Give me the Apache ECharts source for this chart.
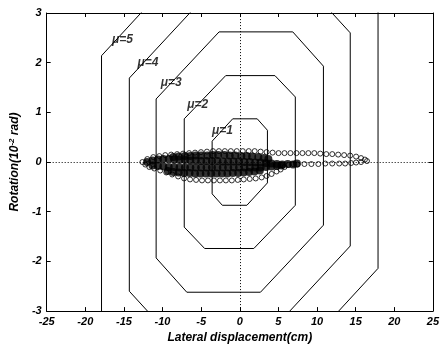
<!DOCTYPE html>
<html><head><meta charset="utf-8">
<script src="https://cdn.jsdelivr.net/npm/echarts@6/dist/echarts.min.js"></script>
<style>html,body{margin:0;padding:0;background:#fff}#c{width:442px;height:349px}</style>
</head><body><div id="c"></div>
<script>
const xTicks = [-25,-20,-15,-10,-5,0,5,10,15,20,25];
const yTicks = [-3,-2,-1,0,1,2,3];

// contour octagons (vertices)
const mu1 = [[-0.92,0.87],[2.26,0.87],[3.58,0.64],[3.58,-0.42],[0.92,-0.87],[-2.26,-0.87],[-3.58,-0.64],[-3.58,0.42],[-0.92,0.87]];
const mu2 = [[-1.82,1.74],[4.55,1.74],[7.19,1.31],[7.19,-0.87],[1.82,-1.74],[-4.55,-1.74],[-7.19,-1.31],[-7.19,0.87],[-1.82,1.74]];
const mu3 = [[-2.68,2.62],[6.86,2.62],[10.83,1.93],[10.83,-1.27],[2.68,-2.62],[-6.86,-2.62],[-10.83,-1.93],[-10.83,1.27],[-2.68,2.62]];
const mu4 = [[-3.6,3.48],[9.12,3.48],[14.3,2.6],[14.3,-1.69],[3.6,-3.48],[-9.12,-3.48],[-14.3,-2.6],[-14.3,1.69],[-3.6,3.48]];
const mu5 = [[-4.5,4.4],[11.4,4.4],[17.9,3.25],[17.9,-2.14],[4.5,-4.4],[-11.4,-4.4],[-17.9,-3.25],[-17.9,2.14],[-4.5,4.4]];
const contourLabels = [[-15.2,2.47,'μ=5'],[-11.9,1.99,'μ=4'],[-8.88,1.6,'μ=3'],[-5.44,1.16,'μ=2'],[-2.25,0.63,'μ=1']];

// response points: upper branch of the loop
const upperBranch = [[-12.61,0.0],[-11.97,0.06],[-11.2,0.1],[-10.42,0.12],[-9.65,0.14],[-8.88,0.15],[-8.11,0.16],[-7.34,0.17],[-6.56,0.18],[-5.79,0.19],[-5.02,0.2],[-4.25,0.21],[-3.47,0.22],[-2.7,0.22],[-1.93,0.22],[-1.16,0.22],[-0.39,0.22],[0.39,0.22],[1.16,0.22],[1.93,0.22],[2.7,0.21],[3.47,0.2],[4.25,0.19],[5.02,0.18],[5.79,0.18],[6.56,0.18],[7.34,0.18],[8.11,0.18],[8.88,0.18],[9.65,0.18],[10.42,0.17],[11.2,0.16],[11.97,0.16],[12.74,0.15],[13.51,0.14],[14.29,0.13],[15.06,0.11],[15.7,0.08],[16.2,0.05],[16.47,0.02]];
// lower branch of the loop
const lowerBranch = [[-12.23,-0.05],[-11.71,-0.1],[-11.07,-0.13],[-10.3,-0.17],[-9.52,-0.21],[-8.75,-0.25],[-7.98,-0.29],[-7.21,-0.33],[-6.44,-0.35],[-5.66,-0.36],[-4.89,-0.37],[-4.12,-0.37],[-3.35,-0.37],[-2.57,-0.37],[-1.8,-0.37],[-1.03,-0.37],[-0.26,-0.36],[0.51,-0.35],[1.29,-0.34],[2.06,-0.33],[2.83,-0.31],[3.47,-0.28],[4.12,-0.24],[4.76,-0.19],[5.28,-0.15],[5.79,-0.1],[6.31,-0.06],[6.9,-0.04],[7.46,-0.05],[8.37,-0.04],[9.27,-0.04],[10.17,-0.04],[11.07,-0.03],[11.97,-0.03],[12.87,-0.03],[13.64,-0.03],[14.41,-0.02],[15.06,-0.01],[15.7,0.0]];
// dense central cloud of points
const coreA = [[-8.6,0.1],[-7.9,0.11],[-7.1,0.12],[-6.4,0.12],[-5.7,0.13],[-5.0,0.13],[-4.2,0.13],[-3.5,0.14],[-2.8,0.14],[-2.0,0.14],[-1.3,0.13],[-0.6,0.13],[0.2,0.12],[0.9,0.12],[1.6,0.11],[2.4,0.1],[3.1,0.08],[3.7,0.06]];
const coreB = [[-12.0,0.0],[-11.3,0.03],[-10.6,0.05],[-9.9,0.06],[-9.2,0.06],[-8.5,0.05],[-7.8,0.04],[-7.1,0.04],[-6.4,0.03],[-5.7,0.03],[-5.0,0.02],[-4.3,0.02],[-3.6,0.02],[-2.9,0.02],[-2.2,0.01],[-1.5,0.01],[-0.8,0.01],[-0.1,0.01],[0.6,0.0],[1.3,0.0],[2.0,-0.01],[2.7,-0.01],[3.4,-0.02],[4.1,-0.03],[4.8,-0.04],[5.5,-0.05],[6.2,-0.04],[6.9,-0.05],[7.4,-0.03]];
const coreC = [[-11.3,-0.07],[-10.6,-0.08],[-9.9,-0.09],[-9.2,-0.1],[-8.5,-0.1],[-7.8,-0.11],[-7.1,-0.11],[-6.4,-0.11],[-5.7,-0.11],[-5.0,-0.11],[-4.3,-0.11],[-3.6,-0.11],[-2.9,-0.11],[-2.2,-0.11],[-1.5,-0.11],[-0.8,-0.11],[-0.1,-0.11],[0.6,-0.11],[1.3,-0.11],[2.0,-0.11],[2.7,-0.11],[3.4,-0.1],[4.1,-0.09],[4.8,-0.08],[5.4,-0.07]];
const coreD = [[-9.3,-0.18],[-8.6,-0.2],[-7.9,-0.21],[-7.2,-0.22],[-6.5,-0.22],[-5.8,-0.23],[-5.1,-0.23],[-4.4,-0.23],[-3.7,-0.23],[-3.0,-0.23],[-2.3,-0.23],[-1.6,-0.23],[-0.9,-0.22],[-0.2,-0.22],[0.5,-0.21],[1.2,-0.2],[1.9,-0.19],[2.6,-0.17]];

const FONT = '"Liberation Sans", Arial, sans-serif';
const tickTxt = {color:'#000', fontFamily:FONT, fontStyle:'italic', fontWeight:'bold', fontSize:11};
const nameTxt = {color:'#000', fontFamily:FONT, fontStyle:'italic', fontWeight:'bold', fontSize:12};
const axLine = {show:true, onZero:false, lineStyle:{color:'#000', width:1}};
const axTick = {show:true, inside:true, length:4, lineStyle:{color:'#000', width:1}};

function contour(d){ return {type:'line', data:d, showSymbol:false, symbol:'none', silent:true, clip:true, z:2,
  lineStyle:{color:'#000', width:1}}; }
function core(d){ return {type:'scatter', data:d, symbol:'circle', symbolSize:8, silent:true, z:4,
  itemStyle:{color:'#000'}}; }
function ring(d){ return {type:'scatter', data:d, symbol:'circle', symbolSize:5, silent:true, z:5,
  itemStyle:{color:'rgba(255,255,255,0)', borderColor:'#000', borderWidth:1}}; }

const chart = echarts.init(document.getElementById('c'), null, {renderer:'canvas'});
chart.setOption({
  animation:false,
  backgroundColor:'#fff',
  grid:{left:45, right:9, top:13, bottom:34},
  xAxis:[
    {type:'value', min:xTicks[0], max:xTicks[xTicks.length-1], interval:xTicks[1]-xTicks[0], position:'bottom',
     axisLine:axLine, axisTick:axTick, splitLine:{show:false},
     axisLabel:Object.assign({margin:5}, tickTxt),
     name:'Lateral displacement(cm)', nameLocation:'middle', nameGap:19, nameTextStyle:nameTxt},
    {type:'value', min:xTicks[0], max:xTicks[xTicks.length-1], interval:xTicks[1]-xTicks[0], position:'top',
     axisLine:axLine, axisTick:axTick, splitLine:{show:false}, axisLabel:{show:false}}
  ],
  yAxis:[
    {type:'value', min:yTicks[0], max:yTicks[yTicks.length-1], interval:yTicks[1]-yTicks[0], position:'left',
     axisLine:axLine, axisTick:axTick, splitLine:{show:false},
     axisLabel:Object.assign({margin:5}, tickTxt),
     name:'{n|Rotation(10}{s|-2}{n| rad)}', nameLocation:'middle', nameGap:22,
     nameTextStyle:{rich:{n:nameTxt, s:Object.assign({}, nameTxt, {fontSize:8, verticalAlign:'top', padding:[0,0,6,0]})}}},
    {type:'value', min:yTicks[0], max:yTicks[yTicks.length-1], interval:yTicks[1]-yTicks[0], position:'right',
     axisLine:axLine, axisTick:axTick, splitLine:{show:false}, axisLabel:{show:false}}
  ],
  series:[
    contour(mu1), contour(mu2), contour(mu3), contour(mu4), contour(mu5),
    {type:'line', data:[], silent:true, z:3,
     markLine:{silent:true, symbol:['none','none'], label:{show:false},
       lineStyle:{color:'#000', width:1, type:[1,2]},
       data:[{xAxis:0},{yAxis:0}]}},
    core(coreA), core(coreB), core(coreC), core(coreD),
    ring(upperBranch), ring(lowerBranch),
    {type:'scatter', data:contourLabels, symbolSize:1, silent:true, z:6,
     itemStyle:{color:'rgba(0,0,0,0)'},
     label:{show:true, position:'inside', formatter:p=>p.data[2],
       color:'#000', fontFamily:FONT, fontStyle:'italic', fontWeight:'bold', fontSize:12}}
  ]
});
</script></body></html>
